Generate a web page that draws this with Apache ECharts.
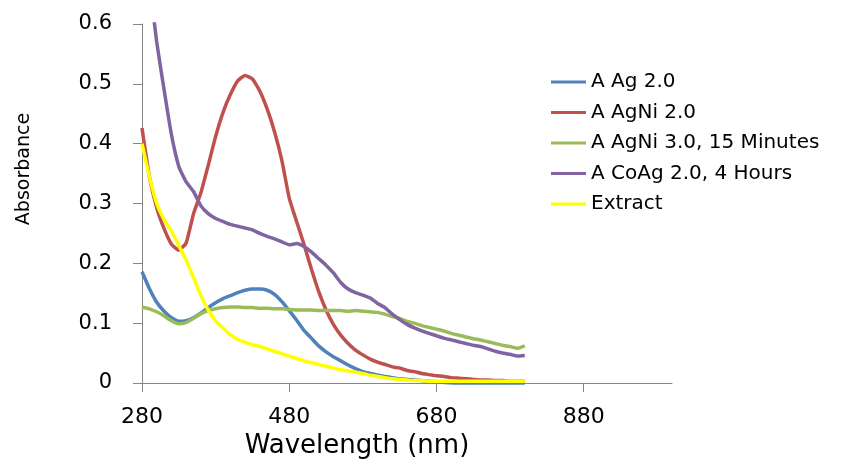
<!DOCTYPE html>
<html>
<head>
<meta charset="utf-8">
<script src="https://cdn.jsdelivr.net/npm/echarts@6/dist/echarts.min.js"></script>
<style>html,body{margin:0;padding:0;background:#fff}#c{width:847px;height:459px}</style>
</head>
<body>
<div id="c"></div>
<script>
const wavelengths = [280,290,300,310,320,330,340,350,360,370,380,390,400,410,420,430,440,450,460,470,480,490,500,510,520,530,540,550,560,570,580,590,600,610,620,630,640,650,660,670,680,690,700,710,720,730,740,750,760,770,780,790,800];
const agValues = [0.186,0.158,0.135,0.120,0.109,0.103,0.104,0.109,0.117,0.126,0.134,0.141,0.146,0.151,0.155,0.157,0.157,0.155,0.148,0.136,0.121,0.105,0.088,0.075,0.062,0.052,0.044,0.037,0.030,0.024,0.019,0.016,0.013,0.011,0.009,0.007,0.006,0.005,0.004,0.003,0.002,0.001,0.000,-0.001,-0.002,-0.002,-0.002,-0.002,-0.002,-0.002,-0.002,-0.002,-0.002];
const agNi2Values = [0.426,0.345,0.293,0.258,0.232,0.222,0.234,0.283,0.318,0.364,0.412,0.452,0.482,0.505,0.514,0.508,0.488,0.458,0.420,0.372,0.309,0.270,0.232,0.191,0.153,0.122,0.098,0.080,0.066,0.055,0.047,0.040,0.035,0.031,0.027,0.025,0.021,0.019,0.016,0.014,0.012,0.011,0.009,0.008,0.007,0.006,0.005,0.005,0.004,0.004,0.003,0.003,0.003];
const agNi3Values = [0.127,0.124,0.119,0.112,0.104,0.099,0.101,0.108,0.116,0.121,0.124,0.126,0.127,0.127,0.126,0.126,0.125,0.125,0.124,0.124,0.123,0.122,0.122,0.122,0.121,0.121,0.121,0.121,0.120,0.121,0.120,0.119,0.118,0.115,0.111,0.108,0.103,0.100,0.096,0.093,0.090,0.087,0.083,0.080,0.077,0.074,0.072,0.069,0.066,0.063,0.061,0.058,0.062];
const coAgValues = [0.76,0.67,0.57,0.49,0.415,0.362,0.336,0.320,0.296,0.283,0.275,0.270,0.265,0.262,0.259,0.256,0.250,0.245,0.241,0.236,0.231,0.233,0.228,0.219,0.208,0.197,0.184,0.168,0.157,0.151,0.147,0.142,0.133,0.126,0.115,0.106,0.098,0.092,0.087,0.083,0.079,0.075,0.072,0.069,0.066,0.063,0.061,0.057,0.053,0.050,0.048,0.045,0.046];
const extractValues = [0.400,0.345,0.300,0.273,0.254,0.230,0.205,0.176,0.146,0.122,0.104,0.092,0.081,0.073,0.068,0.064,0.061,0.057,0.053,0.049,0.045,0.041,0.037,0.034,0.031,0.028,0.025,0.022,0.020,0.018,0.016,0.013,0.011,0.009,0.007,0.006,0.005,0.004,0.004,0.003,0.003,0.003,0.003,0.003,0.003,0.003,0.003,0.003,0.003,0.003,0.003,0.003,0.003];
const seriesNames = ['A Ag 2.0','A AgNi 2.0','A AgNi 3.0, 15 Minutes','A CoAg 2.0, 4 Hours','Extract'];
const seriesColors = ['#4F81BD','#C0504D','#9BBB59','#8064A2','#FFFF00'];
const xTicks = [280,480,680,880];
const yTicks = [0,0.1,0.2,0.3,0.4,0.5,0.6];

const allValues = [agValues, agNi2Values, agNi3Values, coAgValues, extractValues];
const FONT = 'DejaVu Sans';
const chart = echarts.init(document.getElementById('c'), null, {renderer:'canvas'});
chart.setOption({
  animation:false,
  backgroundColor:'#fff',
  grid:{left:142, right:175, top:24, bottom:76, containLabel:false, outerBoundsMode:'none'},
  legend:{
    orient:'vertical', left:546, top:67,
    icon:'rect', itemWidth:35, itemHeight:3, itemGap:10.5,
    textStyle:{fontFamily:FONT, fontSize:20, color:'#000', lineHeight:20},
    data:seriesNames
  },
  xAxis:{
    type:'value', min:280, max:1000, interval:200,
    name:'Wavelength (nm)', nameLocation:'middle', nameGap:46,
    nameTextStyle:{fontFamily:FONT, fontSize:26, color:'#000', padding:[0,100,0,0]},
    axisLine:{show:true, lineStyle:{color:'#868686', width:1}},
    axisTick:{show:true, length:9, lineStyle:{color:'#868686'}},
    splitLine:{show:false},
    axisLabel:{fontFamily:FONT, fontSize:22, color:'#000', margin:23, showMaxLabel:false,
      formatter:v => xTicks.includes(v) ? String(v) : ''}
  },
  yAxis:{
    type:'value', min:0, max:0.6, interval:0.1,
    name:'Absorbance', nameLocation:'middle', nameGap:108, nameRotate:90,
    nameTextStyle:{fontFamily:FONT, fontSize:19, color:'#000', padding:[0,0,0,69]},
    axisLine:{show:true, lineStyle:{color:'#868686', width:1}},
    axisTick:{show:true, length:9, lineStyle:{color:'#868686'}},
    splitLine:{show:false},
    axisLabel:{fontFamily:FONT, fontSize:21, color:'#000', margin:30,
      formatter:v => { const t = yTicks.find(k => Math.abs(k - v) < 1e-9); return t === undefined ? '' : String(t); }}
  },
  series: seriesNames.map((n,i) => ({
    name:n, type:'line', symbol:'none', showSymbol:false, smooth:0.15,
    lineStyle:{color:seriesColors[i], width:3.5},
    itemStyle:{color:seriesColors[i]},
    clip:true,
    data: wavelengths.map((w,j) => [w, allValues[i][j]])
  }))
});
</script>
</body>
</html>
